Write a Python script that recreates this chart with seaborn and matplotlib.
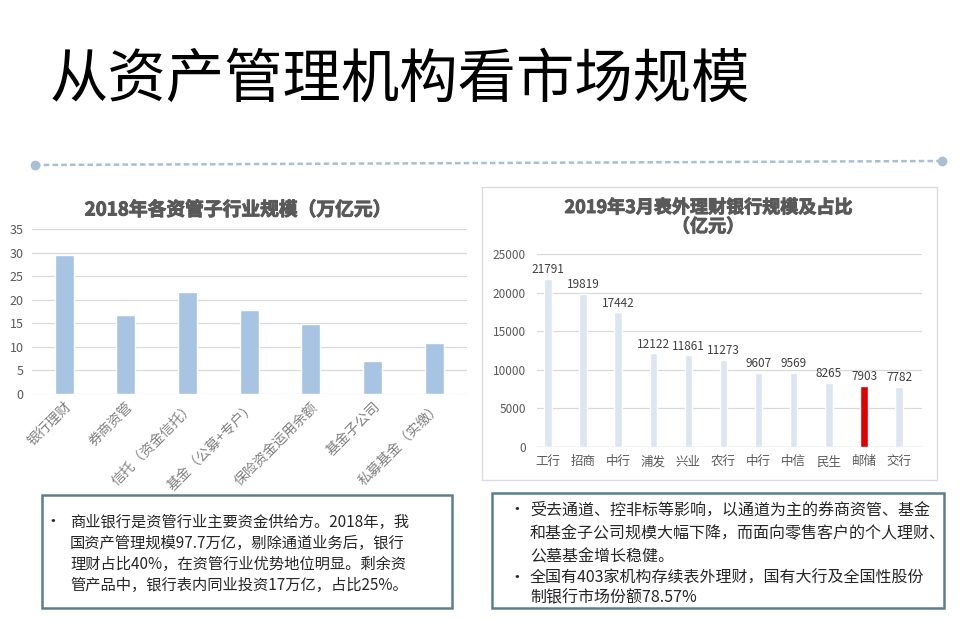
import matplotlib
matplotlib.use("Agg")
import matplotlib.pyplot as plt
import matplotlib.patheffects as pe
from matplotlib.patches import Rectangle
from matplotlib.lines import Line2D
import seaborn as sns
import pandas as pd

sns.set_theme(style="white")
plt.rcParams['font.family'] = ['Noto Sans CJK SC', 'DejaVu Sans']

# left chart data (万亿元)
sectors = ['银行理财', '券商资管', '信托（资金信托）', '基金（公募+专户）',
           '保险资金运用余额', '基金子公司', '私募基金（实缴）']
sector_size = [29.4, 16.8, 21.7, 17.9, 14.8, 7.0, 10.9]

# right chart data (亿元)
banks = ['工行', '招商', '中行', '浦发', '兴业', '农行', '中行', '中信', '民生', '邮储', '交行']
bank_size = [21791, 19819, 17442, 12122, 11861, 11273, 9607, 9569, 8265, 7903, 7782]
highlight = '邮储'

W, H = 960, 631
fig = plt.figure(figsize=(9.6, 6.31), dpi=100)


def fx(px):
    return px / W


def fy(py):
    return 1 - py / H


heavy = [pe.withStroke(linewidth=0.7, foreground='#595959')]

# page title and divider
fig.text(fx(50), fy(80), '从资产管理机构看市场规模', fontsize=42, color='black',
         ha='left', va='center')
fig.add_artist(Line2D([fx(35), fx(942)], [fy(165), fy(161)], color='#a9bfd3',
                      lw=1.8, ls=(0, (2.2, 1.3))))
fig.add_artist(Line2D([fx(35), fx(942)], [fy(165), fy(161)], color='#a9bfd3',
                      lw=0, marker='o', markersize=6))

# right chart frame (behind the axes)
fig.add_artist(Rectangle((fx(482), fy(480)), fx(937) - fx(482), fy(187) - fy(480),
                         facecolor='white', edgecolor='#dcdcdc', lw=1, zorder=-1))

# ---- left chart
ax1 = fig.add_axes([fx(32), fy(394), fx(467) - fx(32), fy(229) - fy(394)])
ax1.patch.set_alpha(0)
df1 = pd.DataFrame({'sector': sectors, 'size': sector_size})
sns.barplot(data=df1, x='sector', y='size', color='#a7c4e3', saturation=1,
            width=0.31, ax=ax1)
ax1.set_ylim(0, 35)
ax1.set_yticks(range(0, 36, 5))
ax1.set_xlim(-0.52, 6.53)
ax1.yaxis.grid(True, color='#d9d9d9', lw=0.9)
ax1.set_axisbelow(True)
sns.despine(ax=ax1, left=True, bottom=True)
ax1.set_xlabel('')
ax1.set_ylabel('')
ax1.tick_params(axis='y', length=0, labelsize=9, labelcolor='#595959', pad=6)
ax1.tick_params(axis='x', length=0, labelsize=10, labelcolor='#808080', pad=4)
for lab in ax1.get_xticklabels():
    lab.set_rotation(45)
    lab.set_ha('right')
    lab.set_rotation_mode('anchor')
fig.text(fx(238), fy(210), '2018年各资管子行业规模（万亿元）', fontsize=13.5,
         fontweight='bold', color='#595959', ha='center', va='center',
         path_effects=heavy)

# ---- right chart
ax2 = fig.add_axes([fx(537), fy(447), fx(922) - fx(537), fy(254) - fy(447)])
ax2.patch.set_alpha(0)
df2 = pd.DataFrame({'pos': range(len(banks)), 'size': bank_size})
colors = ['#e00000' if b == highlight else '#dce6f2' for b in banks]
sns.barplot(data=df2, x='pos', y='size', hue='pos', palette=colors, saturation=1,
            legend=False, width=0.21, dodge=False, ax=ax2)
for c in ax2.containers:
    ax2.bar_label(c, fmt='{:.0f}', fontsize=8.5, color='#404040', padding=2)
ax2.set_ylim(0, 25000)
ax2.set_yticks(range(0, 25001, 5000))
ax2.set_xlim(-0.31, 10.65)
ax2.set_xticks(range(len(banks)))
ax2.set_xticklabels(banks)
ax2.yaxis.grid(True, color='#d9d9d9', lw=0.9)
ax2.set_axisbelow(True)
sns.despine(ax=ax2, left=True, bottom=True)
ax2.axhline(0, color='#d0d0d0', lw=1, zorder=0)
ax2.set_xlabel('')
ax2.set_ylabel('')
ax2.tick_params(axis='y', length=0, labelsize=8.5, labelcolor='#595959', pad=8)
ax2.tick_params(axis='x', length=0, labelsize=9, labelcolor='#595959', pad=6)
fig.text(fx(708), fy(217), '2019年3月表外理财银行规模及占比\n（亿元）', fontsize=13,
         fontweight='bold', color='#595959', ha='center', va='center',
         linespacing=1.0, path_effects=heavy)

# ---- text boxes
box_edge = '#5a7f8e'
fig.add_artist(Rectangle((fx(42), fy(608)), fx(452) - fx(42), fy(495) - fy(608),
                         facecolor='white', edgecolor=box_edge, lw=1.8))
fig.add_artist(Rectangle((fx(492), fy(608)), fx(944) - fx(492), fy(493) - fy(608),
                         facecolor='white', edgecolor=box_edge, lw=1.8))

left_lines = ['商业银行是资管行业主要资金供给方。2018年，我',
              '国资产管理规模97.7万亿，剔除通道业务后，银行',
              '理财占比40%，在资管行业优势地位明显。剩余资',
              '管产品中，银行表内同业投资17万亿，占比25%。']
left_y = [522, 543, 564, 585]
fig.text(fx(53), fy(left_y[0]), '•', fontsize=12, color='#262626', ha='center', va='center')
for t, y in zip(left_lines, left_y):
    fig.text(fx(70), fy(y), t, fontsize=11, color='#262626', ha='left', va='center')

right_lines = ['受去通道、控非标等影响，以通道为主的券商资管、基金',
               '和基金子公司规模大幅下降，而面向零售客户的个人理财、',
               '公墓基金增长稳健。',
               '全国有403家机构存续表外理财，国有大行及全国性股份',
               '制银行市场份额78.57%']
right_y = [510, 534, 557, 578, 598]
for i in (0, 3):
    fig.text(fx(517), fy(right_y[i]), '•', fontsize=12, color='#262626',
             ha='center', va='center')
for t, y in zip(right_lines, right_y):
    fig.text(fx(530), fy(y), t, fontsize=11.5, color='#262626', ha='left', va='center')

fig.savefig('out.png', dpi=100)
